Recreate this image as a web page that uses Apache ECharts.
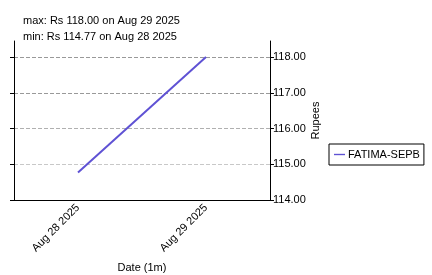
<!DOCTYPE html>
<html><head><meta charset="utf-8">
<script src="https://cdn.jsdelivr.net/npm/echarts@6/dist/echarts.min.js"></script>
<style>html,body{margin:0;padding:0;background:#fff}#c{width:432px;height:275px}</style>
</head><body><div id="c"></div>
<script>
const categories = ['Aug 28 2025', 'Aug 29 2025'];
const seriesName = 'FATIMA-SEPB';
const values = [114.77, 118.00];
const yTicks = [114, 115, 116, 117, 118];
const titleLines = ['max: Rs 118.00 on Aug 29 2025', 'min: Rs 114.77 on Aug 28 2025'];

const FONT = 'Liberation Sans, Arial, sans-serif';
const chart = echarts.init(document.getElementById('c'), null, {renderer: 'canvas'});
const yBase = {
  type: 'value', min: 114, max: 118.45, interval: 1,
  axisLine: {show: true, lineStyle: {color: '#000', width: 1}},
  axisTick: {show: true, inside: false, length: 4, lineStyle: {color: '#000'}, customValues: yTicks},
};
chart.setOption({
  animation: false,
  textStyle: {fontFamily: FONT},
  title: {
    text: titleLines.join('\n'), left: 23, top: 13, padding: 0,
    textStyle: {fontFamily: FONT, fontSize: 11, fontWeight: 'normal', color: '#000', lineHeight: 16}
  },
  legend: {
    data: [seriesName], left: 329, top: 144, orient: 'vertical',
    borderColor: '#000', borderWidth: 1, borderRadius: 0, padding: [5, 4, 5, 5],
    itemWidth: 11, itemHeight: 8, itemGap: 4,
    textStyle: {fontFamily: FONT, fontSize: 11, color: '#000', padding: [0, 0, 0, -2]},
    icon: 'path://M0,4 L12,4 L12,5.5 L0,5.5 Z'
  },
  grid: {left: 14, right: 162, top: 41, bottom: 75, containLabel: false, outerBoundsMode: 'none'},
  xAxis: {
    type: 'category', data: categories, boundaryGap: true,
    axisLine: {lineStyle: {color: '#000'}},
    axisTick: {alignWithLabel: true, length: 4, lineStyle: {color: '#000'}},
    axisLabel: {rotate: 45, fontSize: 11, color: '#000', fontFamily: FONT, margin: 6},
    name: 'Date (1m)', nameLocation: 'middle', nameGap: 62, nameMoveOverlap: false,
    nameTextStyle: {fontSize: 11, color: '#000', fontFamily: FONT},
    splitLine: {show: false}
  },
  yAxis: [
    Object.assign({}, yBase, {
      position: 'left',
      axisLabel: {show: false},
      splitLine: {show: true, lineStyle: {type: 'dashed', width: 1,
        color: ['transparent', '#c8c8c8', '#b0b0b0', '#999', '#999', 'transparent', 'transparent']}}
    }),
    Object.assign({}, yBase, {
      position: 'right',
      axisLabel: {show: true, customValues: yTicks, formatter: v => v.toFixed(2),
        fontSize: 11, color: '#000', fontFamily: FONT, margin: 3},
      splitLine: {show: false},
      name: 'Rupees', nameLocation: 'middle', nameRotate: 90, nameGap: 40, nameMoveOverlap: false,
      nameTextStyle: {fontSize: 11, color: '#000', fontFamily: FONT}
    })
  ],
  series: [{
    name: seriesName, type: 'line', data: values, yAxisIndex: 1,
    showSymbol: false, symbol: 'none',
    lineStyle: {color: '#5f52d4', width: 2}, itemStyle: {color: '#5f52d4'}
  }]
});
</script></body></html>
